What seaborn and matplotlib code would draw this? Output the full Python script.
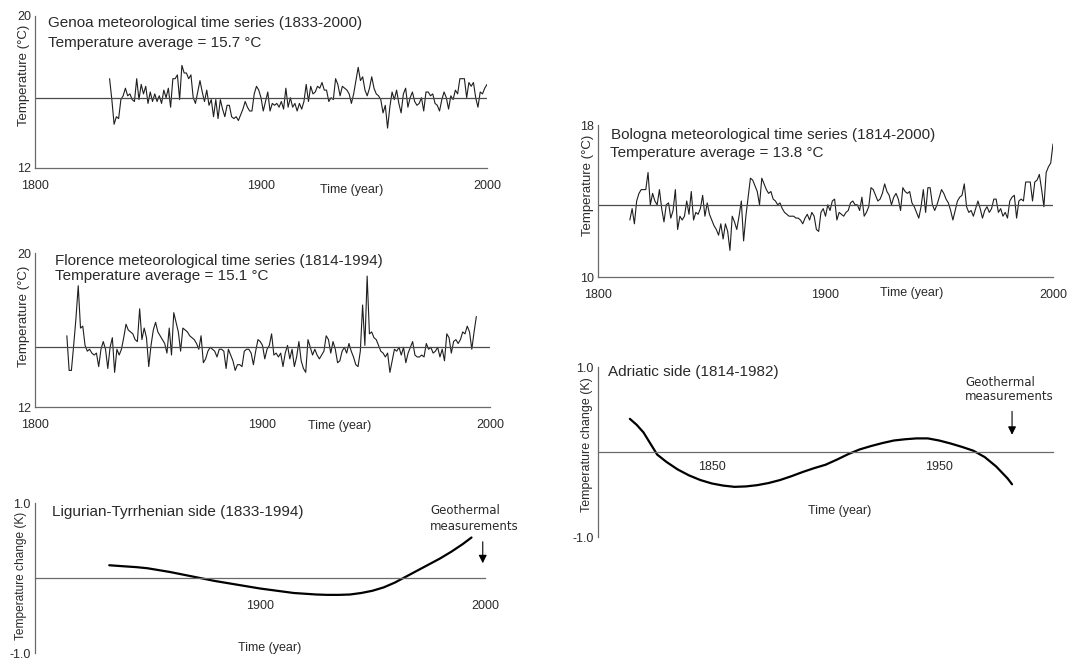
import numpy as np
import pandas as pd
import matplotlib
matplotlib.use("Agg")
import matplotlib.pyplot as plt
import seaborn as sns

# -------------------------------
# Data
# -------------------------------
genoa_start = 1833
genoa_mean = 15.7
genoa_temp = [
    16.7, 15.6, 14.3, 14.7, 14.6, 15.6, 15.8, 16.2, 15.8, 15.9,
    15.6, 15.5, 16.7, 15.6, 16.4, 15.9, 16.3, 15.4, 16.0, 15.5,
    15.9, 15.5, 15.8, 15.4, 16.1, 15.7, 16.2, 15.2, 16.7, 16.7,
    16.9, 15.6, 17.4, 17.0, 17.0, 16.7, 16.9, 15.7, 15.4, 16.0,
    16.6, 16.0, 15.5, 16.1, 15.3, 15.6, 14.7, 15.6, 14.6, 15.6,
    15.1, 14.7, 15.3, 15.3, 14.7, 14.6, 14.7, 14.5, 14.8, 15.1,
    15.5, 15.2, 15.0, 15.0, 15.9, 16.3, 16.1, 15.7, 15.0, 15.5,
    16.0, 15.0, 15.4, 15.3, 15.4, 15.2, 15.5, 15.1, 16.2, 15.2,
    15.7, 15.2, 15.4, 15.0, 15.4, 15.1, 15.5, 16.4, 15.5, 16.3,
    15.9, 16.0, 16.3, 16.2, 16.5, 16.1, 16.1, 15.5, 15.7, 15.6,
    16.7, 16.4, 15.8, 16.3, 16.2, 16.1, 15.9, 15.4, 15.9, 16.6,
    17.3, 16.6, 16.8, 16.1, 15.8, 16.2, 16.8, 16.2, 15.9, 15.8,
    15.6, 14.9, 15.3, 14.1, 15.2, 16.0, 15.6, 16.1, 15.4, 14.9,
    15.9, 16.2, 15.2, 15.7, 16.0, 15.5, 15.3, 15.4, 15.7, 15.0,
    16.0, 16.0, 15.8, 15.9, 15.4, 15.3, 15.0, 15.6, 16.0, 15.7,
    15.1, 15.8, 15.6, 16.1, 15.9, 16.7, 16.7, 16.7, 15.7, 16.5,
    16.3, 16.5, 15.7, 15.2, 16.0, 15.9, 16.2, 16.4,
]

florence_start = 1814
florence_mean = 15.1
florence_temp = [
    15.7, 13.9, 13.9, 15.2, 16.6, 18.3, 16.1, 16.2, 15.2, 14.9,
    15.0, 14.8, 14.7, 14.8, 14.1, 15.0, 15.4, 15.0, 14.0, 15.1,
    15.6, 13.8, 15.0, 14.7, 15.0, 15.6, 16.3, 16.0, 15.9, 15.8,
    15.5, 15.4, 17.1, 15.5, 16.1, 15.6, 14.1, 15.2, 16.0, 16.4,
    15.9, 15.7, 15.5, 15.3, 14.8, 16.1, 14.7, 16.9, 16.4, 15.9,
    14.9, 16.1, 16.0, 15.9, 15.7, 15.6, 15.5, 15.3, 15.0, 15.7,
    14.3, 14.5, 14.9, 15.1, 15.0, 14.9, 14.6, 15.0, 15.0, 14.9,
    14.0, 15.0, 14.7, 14.4, 13.9, 14.2, 14.2, 14.1, 14.9, 15.0,
    15.0, 14.8, 14.2, 14.9, 15.5, 15.4, 15.2, 14.5, 15.0, 15.2,
    15.8, 14.7, 14.8, 14.6, 14.8, 14.1, 14.8, 15.2, 14.5, 15.0,
    14.1, 14.6, 15.4, 14.4, 14.0, 13.8, 15.5, 15.1, 14.7, 15.0,
    14.7, 14.5, 14.7, 14.9, 15.7, 15.5, 14.8, 15.4, 15.0, 14.3,
    14.4, 14.9, 15.1, 14.8, 15.3, 14.9, 14.6, 14.2, 14.1, 14.9,
    17.3, 15.2, 18.8, 15.8, 15.9, 15.6, 15.5, 15.2, 14.9, 14.8,
    14.6, 14.8, 13.8, 14.4, 15.0, 14.9, 15.1, 14.7, 15.1, 14.3,
    14.8, 15.1, 15.4, 14.7, 14.6, 14.6, 14.7, 14.6, 15.3, 15.0,
    15.1, 14.8, 14.9, 15.1, 14.6, 15.0, 14.4, 15.8, 15.6, 14.8,
    15.4, 15.5, 15.3, 15.5, 15.9, 15.8, 16.2, 15.9, 15.0, 15.9,
    16.7,
]

bologna_start = 1814
bologna_mean = 13.8
bologna_temp = [
    13.0, 13.6, 12.8, 14.0, 14.4, 14.6, 14.6, 14.6, 15.5, 13.8,
    14.4, 14.0, 13.8, 14.6, 13.6, 12.9, 13.8, 13.9, 13.1, 13.5,
    14.6, 12.5, 13.2, 13.0, 13.2, 14.0, 13.3, 14.5, 13.0, 13.4,
    13.3, 13.6, 14.3, 13.2, 13.9, 13.3, 13.0, 12.7, 12.5, 12.2,
    12.8, 12.0, 12.8, 12.4, 11.4, 13.2, 12.9, 12.5, 13.2, 14.0,
    11.9, 13.2, 14.2, 15.2, 15.1, 14.8, 14.5, 13.8, 15.2, 14.9,
    14.6, 14.4, 14.5, 14.1, 14.0, 13.8, 13.9, 13.6, 13.4, 13.3,
    13.2, 13.2, 13.2, 13.1, 13.1, 13.0, 12.8, 13.1, 13.3, 13.0,
    13.4, 13.2, 12.5, 12.4, 13.4, 13.6, 13.2, 13.8,
    13.5, 14.0, 14.1, 13.0, 13.4, 13.3, 13.2, 13.4, 13.5, 13.9,
    14.0, 13.8, 13.8, 13.5, 14.2, 13.2, 13.4, 13.7, 14.7, 14.6,
    14.3, 14.0, 14.1, 14.4, 14.9, 14.5, 14.3, 13.8, 14.2, 14.4,
    14.1, 13.5, 14.7, 14.5, 14.4, 14.5, 13.9, 13.7, 13.4, 13.1,
    13.7, 14.6, 13.4, 14.7, 14.7, 13.8, 13.5, 13.8, 14.2, 14.6,
    14.4, 14.1, 13.9, 13.5, 13.0, 13.5, 14.0, 14.2, 14.3, 14.9,
    13.7, 13.4, 13.5, 13.2, 13.6, 14.0, 13.6, 13.1, 13.5, 13.7,
    13.4, 13.6, 14.1, 14.1, 13.4, 13.6, 13.2, 13.4, 13.1, 14.0,
    14.2, 14.3, 13.1, 14.0, 14.1, 14.0, 15.0, 15.0, 15.0, 14.0,
    15.0, 15.1, 15.4, 14.6, 13.7, 15.5, 15.8, 16.0, 17.0,
]

ligurian_year = [1833, 1840, 1845, 1850, 1855, 1860, 1865, 1870, 1875, 1880,
                 1885, 1890, 1895, 1900, 1905, 1910, 1915, 1920, 1925, 1930,
                 1935, 1940, 1945, 1950, 1955, 1960, 1965, 1970, 1975, 1980,
                 1985, 1990, 1994]
ligurian_change = [0.17, 0.155, 0.145, 0.13, 0.105, 0.08, 0.05, 0.02, -0.01, -0.04,
                   -0.065, -0.09, -0.115, -0.14, -0.16, -0.18, -0.20, -0.21, -0.22, -0.225,
                   -0.225, -0.22, -0.20, -0.17, -0.125, -0.06, 0.02, 0.10, 0.18, 0.26,
                   0.35, 0.45, 0.54]

adriatic_year = [1814, 1817, 1820, 1823, 1826, 1830, 1835, 1840, 1845, 1850,
                 1855, 1860, 1865, 1870, 1875, 1880, 1885, 1890, 1895, 1900,
                 1905, 1910, 1915, 1920, 1925, 1930, 1935, 1940, 1945, 1950,
                 1955, 1960, 1965, 1970, 1975, 1980, 1982]
adriatic_change = [0.39, 0.32, 0.23, 0.10, -0.03, -0.115, -0.205, -0.275, -0.33, -0.37,
                   -0.395, -0.41, -0.405, -0.39, -0.365, -0.33, -0.285, -0.235, -0.19, -0.15,
                   -0.09, -0.025, 0.03, 0.07, 0.105, 0.135, 0.15, 0.16, 0.16, 0.135,
                   0.10, 0.06, 0.015, -0.06, -0.17, -0.31, -0.38]

# -------------------------------
# Figure setup
# -------------------------------
sns.set_style("white")
plt.rcParams["font.family"] = ["Liberation Sans", "DejaVu Sans"]

W, H = 1067, 670
INK = "#1e1e1e"
AXC = "#6a6a6a"
TXT = "#2a2a2a"

fig = plt.figure(figsize=(W / 100, H / 100), dpi=100)


def rect(x0, y0, x1, y1):
    # pixel box -> figure fraction
    return [x0 / W, 1 - y1 / H, (x1 - x0) / W, (y1 - y0) / H]


def put(x, y, s, size=11, ha="left", rot=0, **kw):
    kw.setdefault("color", TXT)
    fig.text(x / W, 1 - y / H, s, fontsize=size, ha=ha, va="center",
             rotation=rot, **kw)


def base_style(ax):
    for s in ["top", "right"]:
        ax.spines[s].set_visible(False)
    for s in ["left", "bottom"]:
        ax.spines[s].set_color(AXC)
        ax.spines[s].set_linewidth(0.9)
    ax.tick_params(which="both", colors=AXC, labelcolor=TXT, labelsize=9,
                   length=3, width=0.8, direction="inout")
    ax.set_xlabel("")
    ax.set_ylabel("")


def met_panel(box, start, temps, mean, y0, y1):
    ax = fig.add_axes(rect(*box))
    df = pd.DataFrame({"year": np.arange(start, start + len(temps)), "temp": temps})
    sns.lineplot(data=df, x="year", y="temp", ax=ax, color=INK, linewidth=0.8)
    ax.axhline(mean, color="#4a4a4a", linewidth=0.9)
    ax.set_xlim(1800, 2000)
    ax.set_ylim(y0, y1)
    ax.set_xticks([1800, 1900, 2000])
    ax.set_xticklabels(["1800", "1900", "2000"])
    ax.set_xticks([1850, 1950], minor=True)
    yt = list(range(y0, y1 + 1, 2))
    ax.set_yticks(yt)
    ax.set_yticklabels([str(v) if v in (y0, y1) else "" for v in yt])
    base_style(ax)
    ax.tick_params(axis="x", pad=7)
    ax.tick_params(axis="y", pad=1.5)
    return ax


def trend_panel(box, years, change, major, minor, xpad):
    ax = fig.add_axes(rect(*box))
    df = pd.DataFrame({"year": years, "change": change})
    sns.lineplot(data=df, x="year", y="change", ax=ax, color="black", linewidth=1.6)
    ax.set_xlim(1800, 2000)
    ax.set_ylim(-1, 1)
    ax.spines["bottom"].set_position(("data", 0))
    ax.set_xticks(major)
    ax.set_xticklabels([str(v) for v in major])
    ax.set_xticks(minor, minor=True)
    ax.set_yticks([-1, -0.5, 0, 0.5, 1])
    ax.set_yticklabels(["-1.0", "", "", "", "1.0"])
    base_style(ax)
    ax.tick_params(axis="x", pad=xpad)
    ax.tick_params(axis="y", pad=1.5)
    return ax


# -------------------------------
# Genoa
# -------------------------------
met_panel((35, 16, 487, 168), genoa_start, genoa_temp, genoa_mean, 12, 20)
put(48, 23, "Genoa meteorological time series (1833-2000)")
put(48, 43, "Temperature average = 15.7 \u00b0C")
put(24, 75, "Temperature (\u00b0C)", size=9.5, ha="center", rot=90)
put(352, 190, "Time (year)", size=9, ha="center")

# -------------------------------
# Florence
# -------------------------------
met_panel((35, 253, 490, 407), florence_start, florence_temp, florence_mean, 12, 20)
put(55, 261, "Florence meteorological time series (1814-1994)")
put(55, 276, "Temperature average = 15.1 \u00b0C")
put(24, 316, "Temperature (\u00b0C)", size=9.5, ha="center", rot=90)
put(340, 426, "Time (year)", size=9, ha="center")

# -------------------------------
# Bologna
# -------------------------------
met_panel((598, 125, 1053, 277), bologna_start, bologna_temp, bologna_mean, 10, 18)
put(611, 135, "Bologna meteorological time series (1814-2000)")
put(610, 153, "Temperature average = 13.8 \u00b0C")
put(588, 185, "Temperature (\u00b0C)", size=9.5, ha="center", rot=90)
put(912, 293, "Time (year)", size=9, ha="center")

# -------------------------------
# Ligurian-Tyrrhenian trend
# -------------------------------
ax_l = trend_panel((35, 503, 485, 653), ligurian_year, ligurian_change,
                   [1900, 2000], [1850, 1950], 14)
put(52, 512, "Ligurian-Tyrrhenian side (1833-1994)")
put(21, 576, "Temperature change (K)", size=8.6, ha="center", rot=90)
put(270, 648, "Time (year)", size=9, ha="center")
put(430, 510, "Geothermal", size=8.5, family="DejaVu Sans")
put(430, 527, "measurements", size=8.5, family="DejaVu Sans")
ax_l.annotate("", xy=(1999, 0.16), xytext=(1999, 0.52),
              arrowprops=dict(arrowstyle="-|>", color="black", lw=0.8,
                              mutation_scale=12))

# -------------------------------
# Adriatic trend
# -------------------------------
ax_a = trend_panel((598, 367, 1053, 537), adriatic_year, adriatic_change,
                   [1850, 1950], [1900], 5)
put(608, 372, "Adriatic side (1814-1982)")
put(587, 445, "Temperature change (K)", size=9, ha="center", rot=90)
put(840, 511, "Time (year)", size=9, ha="center")
put(965, 383, "Geothermal", size=8.5, family="DejaVu Sans")
put(965, 397, "measurements", size=8.5, family="DejaVu Sans")
ax_a.annotate("", xy=(1982, 0.17), xytext=(1982, 0.51),
              arrowprops=dict(arrowstyle="-|>", color="black", lw=0.8,
                              mutation_scale=12))

fig.savefig("out.png", dpi=100, facecolor="white")
